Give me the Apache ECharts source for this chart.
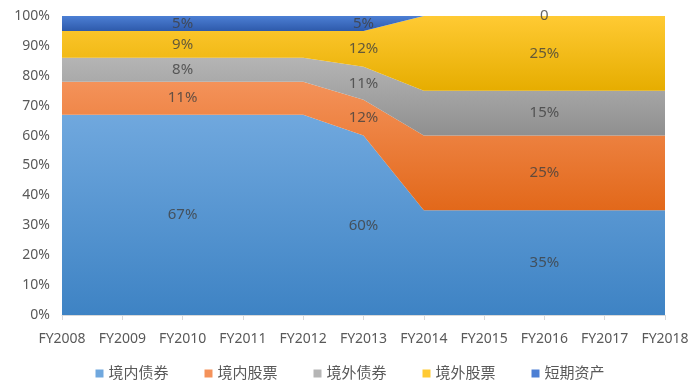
<!DOCTYPE html>
<html><head><meta charset="utf-8">
<script src="https://cdn.jsdelivr.net/npm/echarts@6/dist/echarts.min.js"></script>
<style>html,body{margin:0;padding:0;background:#fff}#c{width:700px;height:389px}</style>
</head><body><div id="c"></div>
<script>
const categories = ['FY2008','FY2009','FY2010','FY2011','FY2012','FY2013','FY2014','FY2015','FY2016','FY2017','FY2018'];
const seriesNames = ['境内债券','境内股票','境外债券','境外股票','短期资产'];
const domesticBonds  = [67,67,67,67,67,60,35,35,35,35,35];
const domesticStocks = [11,11,11,11,11,12,25,25,25,25,25];
const foreignBonds   = [8,8,8,8,8,11,15,15,15,15,15];
const foreignStocks  = [9,9,9,9,9,12,25,25,25,25,25];
const shortTerm      = [5,5,5,5,5,5,0,0,0,0,0];
const labelIndices = [2,5,8];
const yTicks = [0,10,20,30,40,50,60,70,80,90,100];

const allData = [domesticBonds, domesticStocks, foreignBonds, foreignStocks, shortTerm];
const grads = [
  ['#70a8de','#3e83c4'],
  ['#f4925a','#e2681a'],
  ['#b5b5b5','#8f8f8f'],
  ['#ffca33','#e6ad00'],
  ['#4c7fd4','#2e5aab']
];
const font = 'Noto Sans, Noto Sans CJK SC, sans-serif';

const series = allData.map((d,i)=>({
  name: seriesNames[i], type:'line', stack:'total', data:d, z:2,
  symbol:'none', lineStyle:{width:0},
  itemStyle:{color:grads[i][0]},
  areaStyle:{opacity:1,color:new echarts.graphic.LinearGradient(0,0,0,1,[{offset:0,color:grads[i][0]},{offset:1,color:grads[i][1]}])},
  emphasis:{disabled:true}, silent:true
}));

const labelData = [];
labelIndices.forEach(ci=>{
  let cum = 0;
  allData.forEach(d=>{
    const v = d[ci];
    labelData.push({value:[ci, cum + v/2], raw:v});
    cum += v;
  });
});
series.push({
  type:'scatter', symbolSize:1, z:10, silent:true, data:labelData,
  itemStyle:{color:'rgba(0,0,0,0)'},
  label:{show:true, position:'inside', color:'#404040', fontSize:15, fontFamily:font,
    formatter:p=> p.data.raw===0 ? '0' : p.data.raw+'%'},
  labelLayout:{hideOverlap:false}
});

const chart = echarts.init(document.getElementById('c'));
chart.setOption({
  animation:false,
  grid:{left:62,right:35,top:16,bottom:74},
  legend:{data:seriesNames.map((n,i)=>({name:n,itemStyle:{color:grads[i][0]}})), bottom:3, left:'center',
    icon:'rect', itemWidth:8, itemHeight:8, itemGap:36,
    textStyle:{color:'#595959',fontSize:15,fontFamily:font}},
  xAxis:{type:'category', data:categories, boundaryGap:false,
    axisLine:{lineStyle:{color:'#d9d9d9'}}, axisTick:{show:true,alignWithLabel:true,length:5,lineStyle:{color:'#d9d9d9'}},
    axisLabel:{color:'#595959',fontSize:14,fontFamily:font,margin:17,interval:0}},
  yAxis:{type:'value', min:0, max:100, interval:10,
    axisLine:{show:false}, axisTick:{show:false}, splitLine:{show:false},
    axisLabel:{color:'#595959',fontSize:14,fontFamily:font,margin:12,formatter:v=>yTicks.includes(v)?v+'%':''}},
  series
});
</script></body></html>
